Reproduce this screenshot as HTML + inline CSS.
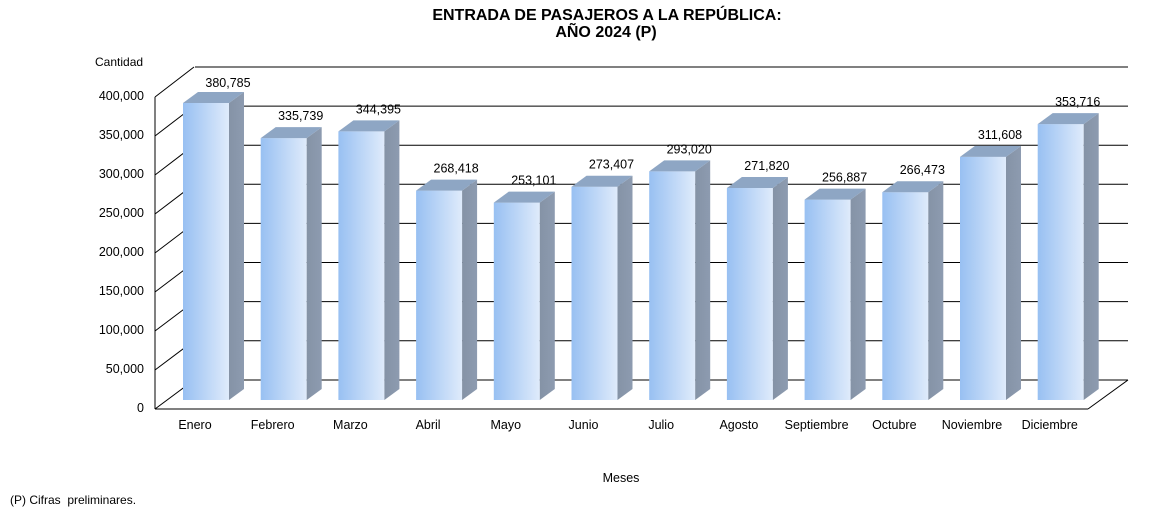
<!DOCTYPE html>
<html><head><meta charset="utf-8"><style>
body{margin:0;background:#fff}
svg{display:block;font-family:"Liberation Sans",Arial,sans-serif}
</style></head><body>
<svg width="1163" height="512" viewBox="0 0 1163 512" xmlns="http://www.w3.org/2000/svg">
<defs>
<linearGradient id="gf" x1="0" y1="0" x2="1" y2="0"><stop offset="0" stop-color="#98c0f2"/><stop offset="1" stop-color="#dfebfb"/></linearGradient>
<linearGradient id="gs" x1="0" y1="0" x2="1" y2="0"><stop offset="0" stop-color="#8593a6"/><stop offset="1" stop-color="#8d9bb0"/></linearGradient>
</defs>
<text x="607" y="20" font-size="16" font-weight="bold" text-anchor="middle">ENTRADA DE PASAJEROS A LA REPÚBLICA:</text>
<text x="606" y="37" font-size="16" font-weight="bold" text-anchor="middle">AÑO 2024 (P)</text>
<text x="95" y="66" font-size="12">Cantidad</text>
<g stroke="#000" stroke-width="1" fill="none">
<line x1="195" y1="67" x2="1128" y2="67"/>
<line x1="195" y1="106.1" x2="1128" y2="106.1"/>
<line x1="195" y1="145.2" x2="1128" y2="145.2"/>
<line x1="195" y1="184.3" x2="1128" y2="184.3"/>
<line x1="195" y1="223.4" x2="1128" y2="223.4"/>
<line x1="195" y1="262.5" x2="1128" y2="262.5"/>
<line x1="195" y1="301.6" x2="1128" y2="301.6"/>
<line x1="195" y1="340.7" x2="1128" y2="340.7"/>
<line x1="195" y1="380" x2="1128" y2="380"/>
<line x1="155" y1="97" x2="194" y2="67"/>
<line x1="155" y1="136" x2="194" y2="106.1"/>
<line x1="155" y1="175" x2="194" y2="145.2"/>
<line x1="155" y1="214" x2="194" y2="184.3"/>
<line x1="155" y1="253" x2="194" y2="223.4"/>
<line x1="155" y1="292" x2="194" y2="262.5"/>
<line x1="155" y1="331" x2="194" y2="301.6"/>
<line x1="155" y1="370" x2="194" y2="340.7"/>
<line x1="155" y1="409" x2="194" y2="380"/>
<line x1="155" y1="97" x2="155" y2="409"/>
<line x1="155" y1="409" x2="1088" y2="409"/>
<line x1="1088" y1="409" x2="1128" y2="380"/>
</g>
<g font-size="12.5" text-anchor="end">
<text x="144" y="100">400,000</text>
<text x="144" y="139">350,000</text>
<text x="144" y="178">300,000</text>
<text x="144" y="217">250,000</text>
<text x="144" y="256">200,000</text>
<text x="144" y="295">150,000</text>
<text x="144" y="334">100,000</text>
<text x="144" y="373">50,000</text>
<text x="144" y="412">0</text>
</g>
<g font-size="12.5" text-anchor="middle">
<g transform="translate(183,103)"><rect width="46" height="297" fill="url(#gf)"/><polygon points="46,0 61,-11 61,286 46,297" fill="url(#gs)"/><polygon points="0,0 15,-11 61,-11 46,0" fill="#8ea6c4"/><text x="45" y="-16">380,785</text></g>
<g transform="translate(260.7,138.1)"><rect width="46" height="261.9" fill="url(#gf)"/><polygon points="46,0 61,-11 61,250.9 46,261.9" fill="url(#gs)"/><polygon points="0,0 15,-11 61,-11 46,0" fill="#8ea6c4"/><text x="40" y="-18">335,739</text></g>
<g transform="translate(338.4,131.4)"><rect width="46" height="268.6" fill="url(#gf)"/><polygon points="46,0 61,-11 61,257.6 46,268.6" fill="url(#gs)"/><polygon points="0,0 15,-11 61,-11 46,0" fill="#8ea6c4"/><text x="40" y="-18">344,395</text></g>
<g transform="translate(416.1,190.6)"><rect width="46" height="209.4" fill="url(#gf)"/><polygon points="46,0 61,-11 61,198.4 46,209.4" fill="url(#gs)"/><polygon points="0,0 15,-11 61,-11 46,0" fill="#8ea6c4"/><text x="40" y="-18">268,418</text></g>
<g transform="translate(493.8,202.6)"><rect width="46" height="197.4" fill="url(#gf)"/><polygon points="46,0 61,-11 61,186.4 46,197.4" fill="url(#gs)"/><polygon points="0,0 15,-11 61,-11 46,0" fill="#8ea6c4"/><text x="40" y="-18">253,101</text></g>
<g transform="translate(571.5,186.7)"><rect width="46" height="213.3" fill="url(#gf)"/><polygon points="46,0 61,-11 61,202.3 46,213.3" fill="url(#gs)"/><polygon points="0,0 15,-11 61,-11 46,0" fill="#8ea6c4"/><text x="40" y="-18">273,407</text></g>
<g transform="translate(649.2,171.4)"><rect width="46" height="228.6" fill="url(#gf)"/><polygon points="46,0 61,-11 61,217.6 46,228.6" fill="url(#gs)"/><polygon points="0,0 15,-11 61,-11 46,0" fill="#8ea6c4"/><text x="40" y="-18">293,020</text></g>
<g transform="translate(726.9,188)"><rect width="46" height="212" fill="url(#gf)"/><polygon points="46,0 61,-11 61,201 46,212" fill="url(#gs)"/><polygon points="0,0 15,-11 61,-11 46,0" fill="#8ea6c4"/><text x="40" y="-18">271,820</text></g>
<g transform="translate(804.6,199.6)"><rect width="46" height="200.4" fill="url(#gf)"/><polygon points="46,0 61,-11 61,189.4 46,200.4" fill="url(#gs)"/><polygon points="0,0 15,-11 61,-11 46,0" fill="#8ea6c4"/><text x="40" y="-18">256,887</text></g>
<g transform="translate(882.3,192.2)"><rect width="46" height="207.8" fill="url(#gf)"/><polygon points="46,0 61,-11 61,196.8 46,207.8" fill="url(#gs)"/><polygon points="0,0 15,-11 61,-11 46,0" fill="#8ea6c4"/><text x="40" y="-18">266,473</text></g>
<g transform="translate(960,156.9)"><rect width="46" height="243.1" fill="url(#gf)"/><polygon points="46,0 61,-11 61,232.1 46,243.1" fill="url(#gs)"/><polygon points="0,0 15,-11 61,-11 46,0" fill="#8ea6c4"/><text x="40" y="-18">311,608</text></g>
<g transform="translate(1037.7,124.1)"><rect width="46" height="275.9" fill="url(#gf)"/><polygon points="46,0 61,-11 61,264.9 46,275.9" fill="url(#gs)"/><polygon points="0,0 15,-11 61,-11 46,0" fill="#8ea6c4"/><text x="40" y="-18">353,716</text></g>
<text x="195" y="429">Enero</text>
<text x="272.7" y="429">Febrero</text>
<text x="350.4" y="429">Marzo</text>
<text x="428.1" y="429">Abril</text>
<text x="505.8" y="429">Mayo</text>
<text x="583.5" y="429">Junio</text>
<text x="661.2" y="429">Julio</text>
<text x="738.9" y="429">Agosto</text>
<text x="816.6" y="429">Septiembre</text>
<text x="894.3" y="429">Octubre</text>
<text x="972" y="429">Noviembre</text>
<text x="1049.7" y="429">Diciembre</text>
<text x="621" y="482">Meses</text>
</g>
<text x="10" y="504" font-size="12" xml:space="preserve">(P) Cifras  preliminares.</text>
</svg>
</body></html>
